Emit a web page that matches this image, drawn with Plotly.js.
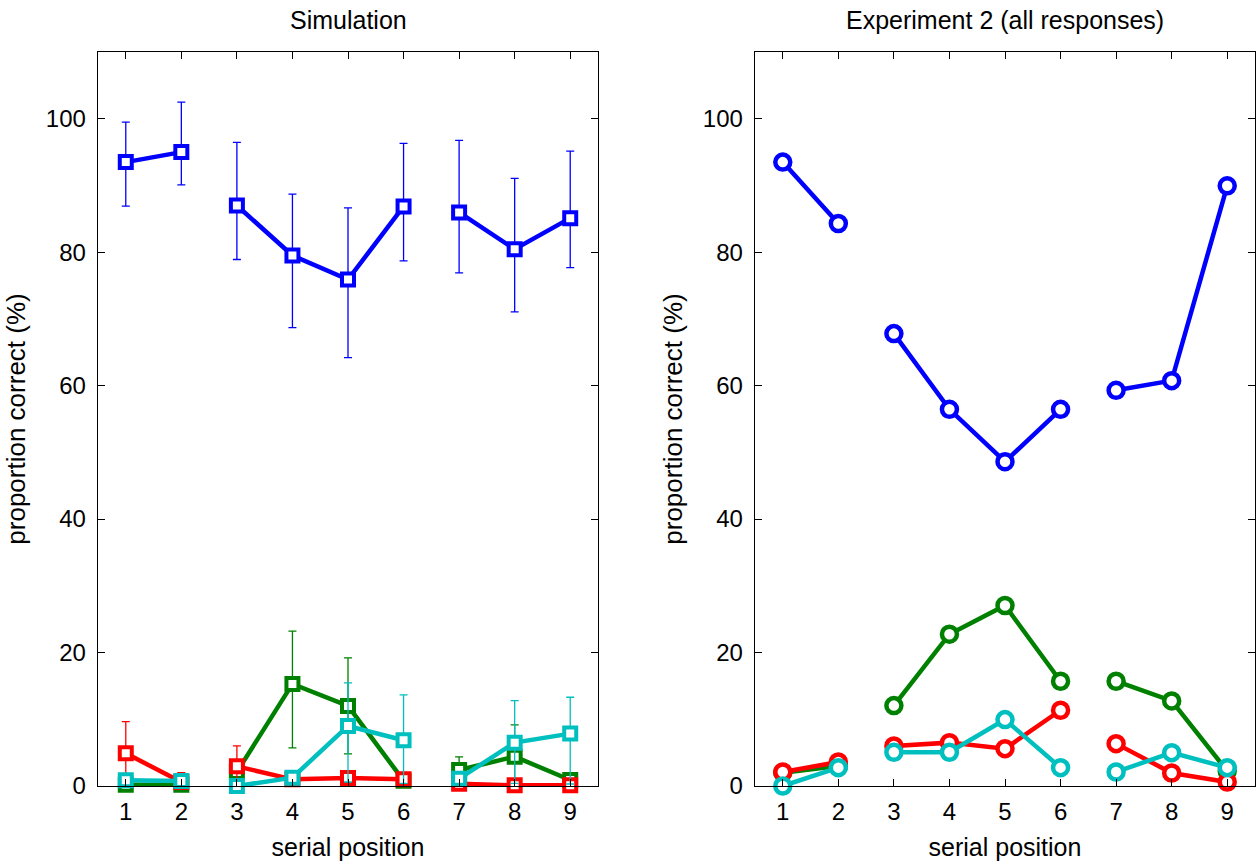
<!DOCTYPE html>
<html>
<head>
<meta charset="utf-8">
<script src="https://cdn.plot.ly/plotly-3.0.1.min.js"></script>
<style>html,body{margin:0;padding:0;background:#fff;}#chart{width:1259px;height:861px;}</style>
</head>
<body>
<div id="chart"></div>
<script>
// ---------- data ----------
const positions = [1, 2, 3, 4, 5, 6, 7, 8, 9];
const tickLabels = ['1', '2', '3', '4', '5', '6', '7', '8', '9'];
const yTicks = [0, 20, 40, 60, 80, 100];
const groups = [[0, 1], [2, 3, 4, 5], [6, 7, 8]];

// Simulation (means, upper and lower error-bar ends)
const simBlue      = [93.5, 95.0, 87.0, 79.5, 75.9, 86.85, 85.95, 80.45, 85.1];
const simBlueUpper = [99.5, 102.5, 96.45, 88.7, 86.65, 96.3, 96.75, 91.05, 95.15];
const simBlueLower = [86.9, 90.1, 78.9, 68.7, 64.2, 78.7, 76.9, 71.05, 77.7];

const simGreen      = [0.2, 0.2, 2.1, 15.3, 12.0, 0.8, 2.4, 4.4, 0.9];
const simGreenUpper = [0.2, 0.2, 2.1, 23.2, 19.2, 0.8, 4.35, 9.15, 0.9];
const simGreenLower = [0.2, 0.2, 2.1, 5.7, 4.8, 0.8, 0.5, 0.0, 0.9];

const simRed      = [4.9, 0.6, 2.95, 1.0, 1.2, 1.0, 0.35, 0.1, 0.1];
const simRedUpper = [9.65, 2.0, 6.0, 1.0, 1.2, 1.0, 0.35, 0.1, 0.1];
const simRedLower = [0.1, 0.0, 0.0, 1.0, 1.2, 1.0, 0.35, 0.1, 0.1];

const simCyan      = [0.85, 0.75, 0.0, 1.25, 9.0, 6.85, 1.1, 6.5, 7.85];
const simCyanUpper = [0.85, 0.75, 0.0, 1.25, 15.45, 13.65, 1.1, 12.8, 13.3];
const simCyanLower = [0.85, 0.75, 0.0, 1.25, 0.6, 0.4, 1.1, 0.4, 0.3];

// Experiment 2 (all responses)
const expBlue  = [93.5, 84.3, 67.8, 56.45, 48.6, 56.45, 59.3, 60.75, 89.95];
const expGreen = [2.0, 3.0, 12.05, 22.75, 27.05, 15.7, 15.7, 12.75, 2.25];
const expRed   = [2.1, 3.6, 6.0, 6.5, 5.6, 11.35, 6.35, 1.95, 0.6];
const expCyan  = [0.0, 2.75, 5.05, 5.05, 9.95, 2.75, 2.1, 5.0, 2.75];

const colors = {blue: '#0000ff', green: '#008000', red: '#ff0000', cyan: '#00bfbf'};

// ---------- helpers ----------
function segmented(arr) {
  const out = [];
  groups.forEach((g, gi) => {
    g.forEach(i => out.push(arr[i]));
    if (gi < groups.length - 1) out.push(null);
  });
  return out;
}
function diff(a, b) { return a.map((v, i) => Math.max(0, v - b[i])); }

function simTrace(y, up, lo, color) {
  const plus = diff(up, y), minus = diff(y, lo);
  return {
    type: 'scatter', mode: 'lines+markers', xaxis: 'x', yaxis: 'y',
    x: segmented(positions), y: segmented(y),
    connectgaps: false, cliponaxis: false,
    line: {color: color, width: 4.5},
    marker: {symbol: 'square', size: 12, color: '#ffffff', line: {color: color, width: 4}},
    error_y: {type: 'data', symmetric: false, array: segmented(plus), arrayminus: segmented(minus),
              color: color, thickness: 1.3, width: 4},
    showlegend: false, hoverinfo: 'x+y'
  };
}
function expTrace(y, color) {
  return {
    type: 'scatter', mode: 'lines+markers', xaxis: 'x2', yaxis: 'y2',
    x: segmented(positions), y: segmented(y),
    connectgaps: false, cliponaxis: false,
    line: {color: color, width: 4.5},
    marker: {symbol: 'circle', size: 15, color: '#ffffff', line: {color: color, width: 4.5}},
    showlegend: false, hoverinfo: 'x+y'
  };
}

const data = [
  simTrace(simBlue, simBlueUpper, simBlueLower, colors.blue),
  simTrace(simGreen, simGreenUpper, simGreenLower, colors.green),
  simTrace(simRed, simRedUpper, simRedLower, colors.red),
  simTrace(simCyan, simCyanUpper, simCyanLower, colors.cyan),
  expTrace(expBlue, colors.blue),
  expTrace(expGreen, colors.green),
  expTrace(expRed, colors.red),
  expTrace(expCyan, colors.cyan)
];

const font = 'Liberation Sans, Arial, Helvetica, sans-serif';
function xAxis(domain, anchor) {
  return {
    domain: domain, anchor: anchor, range: [0.5, 9.5],
    tickvals: positions, ticktext: tickLabels,
    ticks: 'inside', ticklen: 7, tickcolor: '#000', tickwidth: 1,
    ticklabelstandoff: 4,
    showline: true, linecolor: '#000', linewidth: 1.3, mirror: 'ticks',
    showgrid: false, zeroline: false,
    tickfont: {family: font, size: 24, color: '#000'},
    title: {text: 'serial position', font: {family: font, size: 25, color: '#000'}, standoff: 14},
    automargin: false, fixedrange: true
  };
}
function yAxis(domain, anchor) {
  return {
    domain: domain, anchor: anchor, range: [0, 110],
    tickvals: yTicks, ticks: 'inside', ticklen: 7, tickcolor: '#000', tickwidth: 1,
    ticklabelstandoff: 6,
    showline: true, linecolor: '#000', linewidth: 1.3, mirror: 'ticks',
    showgrid: false, zeroline: false,
    tickfont: {family: font, size: 24, color: '#000'},
    title: {text: 'proportion correct (%)', font: {family: font, size: 26, color: '#000'}, standoff: 12},
    automargin: false, fixedrange: true
  };
}

const yDom = [1 - 786 / 861, 1 - 52 / 861];
const layout = {
  width: 1259, height: 861,
  margin: {l: 0, r: 0, t: 0, b: 0},
  paper_bgcolor: '#fff', plot_bgcolor: '#fff',
  font: {family: font, color: '#000'},
  xaxis: xAxis([98 / 1259, 598 / 1259], 'y'),
  yaxis: yAxis(yDom, 'x'),
  xaxis2: xAxis([755 / 1259, 1255 / 1259], 'y2'),
  yaxis2: yAxis(yDom, 'x2'),
  annotations: [
    {text: 'Simulation', xref: 'x domain', yref: 'paper', x: 0.5, y: 1 - 20 / 861,
     showarrow: false, xanchor: 'center', yanchor: 'middle', font: {family: font, size: 25, color: '#000'}},
    {text: 'Experiment 2 (all responses)', xref: 'x2 domain', yref: 'paper', x: 0.5, y: 1 - 20 / 861,
     showarrow: false, xanchor: 'center', yanchor: 'middle', font: {family: font, size: 25, color: '#000'}}
  ],
  showlegend: false
};

Plotly.newPlot('chart', data, layout, {displayModeBar: false, staticPlot: true});
</script>
</body>
</html>
